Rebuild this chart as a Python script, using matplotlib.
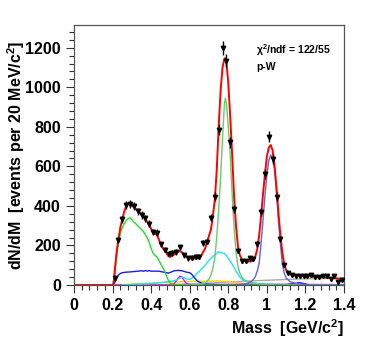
import numpy as np
import matplotlib
matplotlib.use('Agg')
import matplotlib.pyplot as plt
from matplotlib.ticker import MultipleLocator

plt.rcParams['font.family'] = ['Liberation Sans', 'DejaVu Sans']
plt.rcParams['mathtext.fontset'] = 'custom'
plt.rcParams['mathtext.rm'] = 'Liberation Sans:bold'
plt.rcParams['mathtext.bf'] = 'Liberation Sans:bold'

# measured points, 20 MeV bins
mass = [0.21, 0.23, 0.25, 0.27, 0.29, 0.31, 0.33, 0.35, 0.37, 0.39,
        0.41, 0.43, 0.45, 0.47, 0.49, 0.51, 0.53, 0.55, 0.57, 0.59,
        0.61, 0.63, 0.65, 0.67, 0.69, 0.71, 0.73, 0.75, 0.77, 0.79,
        0.81, 0.83, 0.85, 0.87, 0.89, 0.91, 0.93, 0.95, 0.97, 0.99,
        1.01, 1.03, 1.05, 1.07, 1.09, 1.11, 1.13, 1.15, 1.17, 1.19,
        1.21, 1.23, 1.25, 1.27, 1.29, 1.31, 1.33, 1.35, 1.37, 1.39]
counts = [35, 228, 332, 405, 408, 398, 372, 355, 338, 310,
          268, 265, 205, 178, 158, 162, 167, 190, 150, 135,
          138, 143, 143, 213, 220, 340, 447, 785, 1198, 1135,
          721, 383, 174, 120, 122, 135, 130, 208, 368, 562,
          751, 636, 447, 231, 100, 62, 50, 48, 48, 47,
          47, 50, 40, 40, 47, 45, 32, 45, 15, 27]
errors = [8, 15, 18, 20, 20, 20, 19, 19, 18, 18,
          16, 16, 14, 13, 13, 13, 13, 14, 12, 12,
          12, 12, 12, 15, 15, 18, 21, 28, 35, 34,
          27, 20, 13, 11, 11, 12, 11, 14, 19, 24,
          27, 25, 21, 15, 10, 8, 7, 7, 7, 7,
          7, 7, 6, 6, 7, 7, 6, 7, 4, 5]

# total fit (red)
tot_x = [0.0, 0.20, 0.205, 0.21, 0.22, 0.23, 0.24, 0.25, 0.26, 0.27, 0.28, 0.29, 0.30,
         0.32, 0.34, 0.36, 0.38, 0.40, 0.41, 0.42, 0.43, 0.44, 0.45, 0.46, 0.48, 0.49,
         0.50, 0.52, 0.54, 0.55, 0.56, 0.58, 0.60, 0.62, 0.64, 0.66, 0.68, 0.70, 0.71,
         0.72, 0.73, 0.74, 0.75, 0.76, 0.77, 0.78, 0.785, 0.79, 0.80, 0.81, 0.82, 0.83,
         0.84, 0.85, 0.86, 0.87, 0.88, 0.90, 0.92, 0.93, 0.94, 0.95, 0.96, 0.97, 0.98,
         0.99, 1.00, 1.01, 1.02, 1.03, 1.04, 1.05, 1.06, 1.07, 1.08, 1.09, 1.10, 1.12,
         1.15, 1.20, 1.25, 1.30, 1.35, 1.40]
tot_y = [0, 0, 5, 60, 160, 230, 290, 330, 370, 398, 410, 410, 402,
         385, 365, 345, 320, 285, 262, 258, 255, 230, 205, 188, 160, 145,
         142, 155, 168, 172, 165, 148, 135, 133, 138, 150, 185, 250, 280,
         350, 430, 580, 800, 980, 1100, 1145, 1148, 1130, 1020, 850, 660, 450,
         300, 195, 150, 130, 122, 118, 120, 125, 145, 180, 250, 350, 460,
         560, 650, 695, 708, 680, 600, 490, 365, 255, 165, 105, 75, 55,
         48, 45, 42, 38, 34, 30]

# low-mass continuum (green)
dal_x = [0.20, 0.21, 0.22, 0.23, 0.24, 0.25, 0.26, 0.27, 0.28, 0.29, 0.30, 0.31, 0.32,
         0.33, 0.34, 0.35, 0.36, 0.37, 0.38, 0.39, 0.40, 0.41, 0.42, 0.43, 0.44, 0.45,
         0.46, 0.47, 0.48, 0.49, 0.50, 0.52, 0.56, 1.40]
dal_y = [0, 40, 140, 210, 260, 290, 310, 325, 335, 340, 330, 318, 310,
         300, 290, 282, 270, 255, 238, 215, 185, 160, 150, 142, 125, 105,
         90, 70, 45, 22, 8, 2, 0, 0]

# omega (light green)
om_x = [0.60, 0.65, 0.68, 0.70, 0.71, 0.72, 0.73, 0.74, 0.75, 0.76, 0.77, 0.78, 0.785,
        0.79, 0.80, 0.81, 0.82, 0.83, 0.84, 0.85, 0.86, 0.87, 0.88, 0.90, 0.92, 0.95,
        1.00, 1.05, 1.40]
om_y = [0, 3, 10, 30, 50, 85, 135, 240, 380, 540, 740, 920, 945,
        920, 800, 660, 460, 290, 165, 95, 60, 40, 28, 18, 12, 6,
        2, 0, 0]

# omega Dalitz (dark blue)
od_x = [0.20, 0.21, 0.22, 0.23, 0.24, 0.25, 0.27, 0.29, 0.31, 0.33, 0.35, 0.36, 0.37,
        0.38, 0.39, 0.40, 0.42, 0.44, 0.46, 0.48, 0.49, 0.50, 0.52, 0.54, 0.56, 0.58,
        0.60, 0.61, 0.62, 0.63, 0.64, 0.66, 0.68, 0.70, 0.80, 1.10, 1.15, 1.17, 1.19,
        1.22, 1.40]
od_y = [0, 10, 30, 50, 58, 62, 65, 66, 68, 70, 72, 70, 73,
        70, 73, 70, 70, 70, 66, 62, 60, 64, 72, 74, 72, 66,
        62, 55, 42, 30, 20, 10, 5, 3, 0, 2, 8, 12, 8,
        0, 0]

# rho (cyan)
rho_x = [0.25, 0.30, 0.40, 0.45, 0.50, 0.53, 0.55, 0.56, 0.57, 0.58, 0.60, 0.62, 0.64,
         0.66, 0.68, 0.70, 0.72, 0.74, 0.75, 0.76, 0.77, 0.78, 0.79, 0.80, 0.82, 0.84,
         0.86, 0.88, 0.90, 0.95, 1.00, 1.10, 1.40]
rho_y = [0, 3, 8, 12, 18, 25, 35, 40, 38, 32, 28, 40, 60,
         80, 100, 125, 145, 160, 168, 165, 162, 160, 148, 135, 105, 70,
         40, 22, 15, 8, 5, 2, 0]

# phi (slate blue)
phi_x = [0.85, 0.90, 0.92, 0.93, 0.94, 0.95, 0.96, 0.97, 0.98, 0.99, 1.00, 1.01, 1.02,
         1.03, 1.04, 1.05, 1.06, 1.07, 1.08, 1.09, 1.10, 1.12, 1.15, 1.18, 1.22, 1.40]
phi_y = [0, 8, 18, 28, 42, 70, 110, 210, 330, 450, 555, 630, 658,
         635, 590, 470, 330, 210, 110, 60, 35, 17, 8, 5, 0, 0]

# eta (magenta)
eta_x = [0.0, 0.50, 0.52, 0.53, 0.54, 0.55, 0.56, 0.57, 0.58, 0.60, 0.62, 0.70, 0.90,
         1.10, 1.40]
eta_y = [0, 0, 8, 20, 35, 45, 40, 25, 10, 2, 1, 3, 4, 3, 2]

# eta' (yellow)
etap_x = [0.22, 0.30, 0.40, 0.50, 0.60, 0.70, 0.75, 0.80, 0.85, 0.90, 0.95, 1.00, 1.40]
etap_y = [0, 5, 10, 15, 18, 20, 20, 18, 12, 5, 2, 0, 0]

# open charm (grey)
dd_x = [0.40, 0.50, 0.60, 0.70, 0.80, 0.90, 1.00, 1.10, 1.20, 1.30, 1.40]
dd_y = [0, 3, 6, 10, 15, 20, 24, 28, 31, 33, 35]

fig = plt.figure(figsize=(3.66, 3.51), dpi=100)
ax = fig.add_axes([0.2022, 0.188, 0.7377, 0.7408])

ax.plot(dd_x, dd_y, color='#aaaaaa', lw=1.0)
ax.plot(etap_x, etap_y, color='#e0e000', lw=1.0)
ax.plot(eta_x, eta_y, color='#ff00ff', lw=1.0)
ax.plot(rho_x, rho_y, color='#22e0ff', lw=1.0)
ax.plot(od_x, od_y, color='#1a1aee', lw=1.0)
ax.plot(dal_x, dal_y, color='#22dd22', lw=1.0)
ax.plot(om_x, om_y, color='#66cc66', lw=1.0)
ax.plot(phi_x, phi_y, color='#6262e0', lw=1.0)
ax.plot(tot_x, tot_y, color='#ff0000', lw=1.4)

ax.errorbar(mass, counts, yerr=errors, fmt='v', color='black', ms=3.2,
            elinewidth=1.0, capsize=0, zorder=5)

ax.set_xlim(0, 1.4)
ax.set_ylim(0, 1315)
ax.xaxis.set_major_locator(MultipleLocator(0.2))
ax.xaxis.set_minor_locator(MultipleLocator(0.04))
ax.yaxis.set_major_locator(MultipleLocator(200))
ax.yaxis.set_minor_locator(MultipleLocator(40))
ax.set_xticks([0, 0.2, 0.4, 0.6, 0.8, 1.0, 1.2, 1.4])
ax.set_xticklabels(['0', '0.2', '0.4', '0.6', '0.8', '1', '1.2', '1.4'])
ax.tick_params(which='both', direction='out', top=False, right=False,
               colors='#333333', labelcolor='black', labelsize=11.5)
ax.tick_params(which='major', length=6, width=0.8)
ax.tick_params(which='minor', length=3.5, width=0.8)
for lab in ax.get_xticklabels() + ax.get_yticklabels():
    lab.set_fontweight('bold')
for sp in ax.spines.values():
    sp.set_color('#555555')
    sp.set_linewidth(0.9)

ax.set_ylabel(r'dN/dM  [events per 20 MeV/c$^{2}$]', fontsize=11.5,
              fontweight='bold', labelpad=4)
ax.yaxis.set_label_coords(-0.175, 0.5)
ax.set_xlabel(r'Mass  [GeV/c$^{2}$]', fontsize=11.5, fontweight='bold')
ax.xaxis.set_label_coords(1.0, -0.125)
ax.xaxis.label.set_horizontalalignment('right')

ax.text(0.675, 0.905, 'χ$^{2}$/ndf = 122/55', transform=ax.transAxes,
        fontsize=7.5, fontweight='bold', va='center')
ax.text(0.675, 0.84, 'p-W', transform=ax.transAxes,
        fontsize=7.5, fontweight='bold', va='center')

fig.savefig('out.png', dpi=100)
